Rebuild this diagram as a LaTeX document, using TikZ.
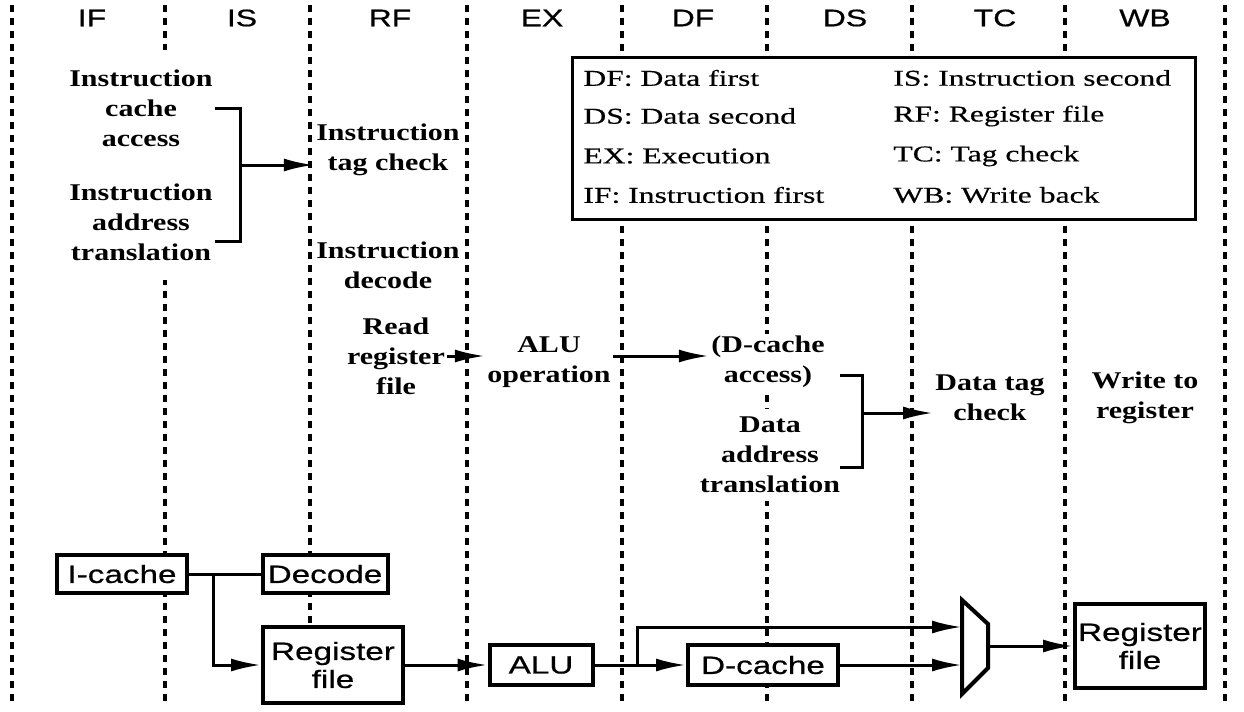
\documentclass[tikz,border=0pt]{standalone}
\usepackage{fontspec}
\setmainfont{Liberation Serif}
\newfontfamily\bodyfont{Liberation Serif}[FakeStretch=1.25]
\newfontfamily\legendfont{Liberation Serif}[FakeStretch=1.4, FakeBold=0.4]
\newfontfamily\boxfont{Liberation Sans}[FakeStretch=1.33, FakeBold=0.6]
\usetikzlibrary{arrows.meta}

\tikzset{
  stageline/.style={dash pattern=on 3.5pt off 3pt, line width=2pt},
  txt/.style={align=center, fill=white, inner sep=1pt, font=\bodyfont\bfseries\fontsize{12}{15}\selectfont},
  lgd/.style={anchor=west, inner sep=0pt, font=\legendfont\fontsize{11.3}{13}\selectfont},
  hdr/.style={font=\boxfont\fontsize{12}{14}\selectfont},
  blk/.style={draw, line width=2pt, fill=white, align=center, inner sep=0pt, font=\boxfont\fontsize{12.5}{14}\selectfont},
  conn/.style={line width=1.5pt},
}

\begin{document}
\begin{tikzpicture}[x=0.5pt, y=-0.5pt, >={Latex[length=15pt,width=6.5pt]}]
\useasboundingbox (0,0) rectangle (1244,712);

\foreach \x in {12,165,310,467,622,767,912,1065,1225}
  \draw [stageline] (\x,5) -- (\x,705);

\foreach \lbl/\x in {IF/92,IS/242,RF/390,EX/542,DF/693,DS/845,TC/995,WB/1145}
  \node (h\lbl) at (\x,18) [hdr] {\lbl};

\node (legend) at (883.5,138) [draw, line width=1.5pt, fill=white, minimum width=311.5pt, minimum height=81pt] {};
\node (lgdf) at (583,78) [lgd] {DF: Data first};
\node (lgds) at (583,116) [lgd] {DS: Data second};
\node (lgex) at (583,156) [lgd] {EX: Execution};
\node (lgif) at (583,195) [lgd] {IF: Instruction first};
\node (lgis) at (893,78) [lgd] {IS: Instruction second};
\node (lgrf) at (893,116) [lgd] {RF: Register file};
\node (lgtc) at (893,156) [lgd] {TC: Tag check};
\node (lgwb) at (893,195) [lgd] {WB: Write back};

\node (iacc) at (141,108) [txt, inner ysep=10pt] {Instruction\\cache\\access};
\node (iaddr) at (141,222) [txt, inner ysep=10pt] {Instruction\\address\\translation};
\node (itag) at (388,150) [txt] {Instruction\\tag check};
\node (idec) at (388,265) [txt] {Instruction\\decode};
\node (rreg) at (396,356) [txt] {Read\\register\\file};
\node (aluop) at (549,362) [txt] {ALU\\operation};
\node (dacc) at (768,362) [txt] {(D-cache\\access)};
\node (daddr) at (770,455) [txt, inner ysep=4pt] {Data\\address\\translation};
\node (dtag) at (990,398) [txt] {Data tag\\check};
\node (wreg) at (1145,398) [txt] {Write to\\register};

\coordinate (ibrt) at (240,108);
\coordinate (ibrb) at (240,241);
\coordinate (ibrm) at (240,165);
\draw [conn] (iacc.east) -- (ibrt) -- (ibrb) -- (ibrb -| iacc.east);
\draw [conn,->] (ibrm) -- (ibrm -| itag.west);

\draw [conn,->] (rreg.east) -- (aluop.west |- rreg.east);
\draw [conn,->] (aluop.east |- rreg.east) -- (dacc.west |- rreg.east);

\coordinate (dbrt) at (862,375);
\coordinate (dbrb) at (862,467);
\coordinate (dbrm) at (862,413);
\draw [conn] (dbrt -| 840,0) -- (dbrt) -- (dbrb) -- (dbrb -| 840,0);
\draw [conn,->] (dbrm) -- (dbrm -| dtag.west);

\node (icache) at (122,574) [blk, minimum width=65pt, minimum height=19pt] {I-cache};
\node (decode) at (325,574) [blk, minimum width=62.5pt, minimum height=19pt] {Decode};
\node (regis) at (333,665) [blk, minimum width=70pt, minimum height=38pt] {Register\\file};
\node (alu) at (541,665) [blk, minimum width=51.5pt, minimum height=20pt] {ALU};
\node (dcache) at (763,665) [blk, minimum width=75pt, minimum height=20pt] {D-cache};
\node (regwb) at (1140,646) [blk, minimum width=65pt, minimum height=42pt] {Register\\file};

\coordinate (muxa) at (962,600);
\coordinate (muxb) at (988,624);
\coordinate (muxc) at (988,668);
\coordinate (muxd) at (962,694);
\draw [line width=2pt, fill=white] (muxa) -- (muxb) -- (muxc) -- (muxd) -- cycle;
\coordinate (muxin1) at (962,627);
\coordinate (muxin2) at (962,665);
\coordinate (muxout) at (988,646);

\coordinate (ibranch) at (213,574);
\coordinate (abranch) at (637,665);
\draw [conn] (icache) -- (decode);
\draw [conn,->] (ibranch) |- (regis.west);
\draw [conn,->] (regis) -- (alu);
\draw [conn,->] (alu) -- (dcache);
\draw [conn,->] (abranch) |- (muxin1);
\draw [conn,->] (dcache) -- (muxin2);
\draw [conn,->] (muxout) -- (regwb);
\end{tikzpicture}
\end{document}
